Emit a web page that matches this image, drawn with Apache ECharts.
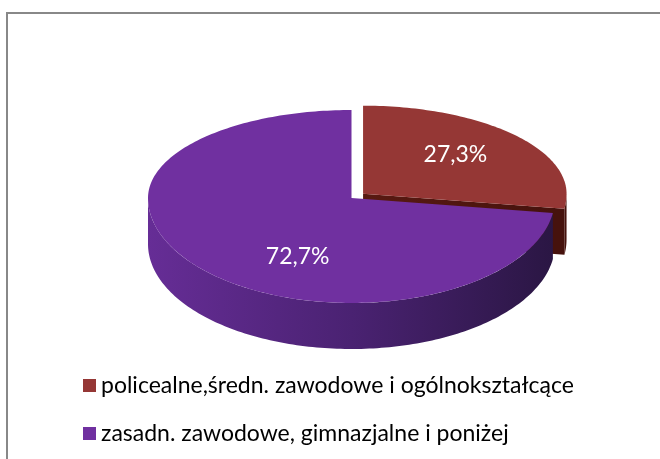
<!DOCTYPE html>
<html>
<head>
  <meta charset="utf-8">
  <title>wykształcenie</title>
  <script src="https://cdn.jsdelivr.net/npm/echarts@6/dist/echarts.min.js"></script>
  <style>
    html, body { margin: 0; padding: 0; background: #fff; }
  </style>
</head>
<body>
  <div id="main" style="width:660px;height:459px;"></div>
  <script type="text/javascript">
    // dane
    var names = ['policealne,średn. zawodowe i ogólnokształcące', 'zasadn. zawodowe, gimnazjalne i poniżej'];
    var values = [27.3, 72.7];
    var colors = ['#953735', '#7030A0'];
    var sideColors = [['#5e1e17', '#5a1a12', '#46120d'], ['#662d96', '#4a2272', '#2a1643']];

    // geometria "3D" tortu (przód elipsy większy - perspektywa)
    var CX = 351.5, CY = 198, RX = 203.5, RY_BACK = 88, RY_FRONT = 105, DEPTH = 46;
    var explode = [0.075, 0];
    var labelK = [0.6, 0.35];
    var labelDrop = [-5, 35];

    var total = values.reduce(function (a, b) { return a + b; }, 0);

    function startAngle(i) {
      var s = 0;
      for (var k = 0; k < i; k++) s += values[k];
      return s / total * Math.PI * 2;
    }

    function ry(t) {
      return Math.cos(t) > 0 ? RY_BACK : RY_FRONT;
    }

    function pt(t, ox, oy, dz) {
      return [CX + ox + RX * Math.sin(t), CY + oy - ry(t) * Math.cos(t) + dz];
    }

    function arc(a, b, ox, oy, dz) {
      var n = Math.max(2, Math.ceil(Math.abs(b - a) / 0.02));
      var pts = [];
      for (var j = 0; j <= n; j++) pts.push(pt(a + (b - a) * j / n, ox, oy, dz));
      return pts;
    }

    function renderSlice(i) {
      return function (params, api) {
        var v = api.value(0);
        var a0 = startAngle(i);
        var a1 = a0 + v / total * Math.PI * 2;
        var mid = (a0 + a1) / 2;
        var ox = explode[i] * RX * Math.sin(mid);
        var oy = -explode[i] * ry(mid) * Math.cos(mid);
        var c = [CX + ox, CY + oy];
        var cb = [c[0], c[1] + DEPTH];
        var side = new echarts.graphic.LinearGradient(CX - RX, 0, CX + RX, 0, [
          { offset: 0, color: sideColors[i][0] },
          { offset: 0.5, color: sideColors[i][1] },
          { offset: 1, color: sideColors[i][2] }
        ], true);
        var children = [];

        // ściany boczne (przekroje)
        if (Math.sin(a1) > 1e-6) {
          var e1 = pt(a1, ox, oy, 0);
          children.push({ type: 'polygon', shape: { points: [c, e1, [e1[0], e1[1] + DEPTH], cb] }, style: { fill: side } });
        }
        if (Math.sin(a0) < -1e-6) {
          var e0 = pt(a0, ox, oy, 0);
          children.push({ type: 'polygon', shape: { points: [c, e0, [e0[0], e0[1] + DEPTH], cb] }, style: { fill: side } });
        }
        // ściana zewnętrzna
        var lo = Math.max(a0, Math.PI / 2), hi = Math.min(a1, Math.PI * 1.5);
        if (lo < hi) {
          var wall = arc(lo, hi, ox, oy, 0).concat(arc(hi, lo, ox, oy, DEPTH));
          children.push({ type: 'polygon', shape: { points: wall }, style: { fill: side } });
        }
        // wierzch
        children.push({ type: 'polygon', shape: { points: [c].concat(arc(a0, a1, ox, oy, 0)) }, style: { fill: colors[i] } });

        // etykieta
        var k = labelK[i];
        children.push({
          type: 'text',
          x: c[0] + k * RX * Math.sin(mid),
          y: c[1] - k * ry(mid) * Math.cos(mid) + labelDrop[i],
          style: {
            text: v.toFixed(1).replace('.', ',') + '%',
            fill: '#fff',
            fontSize: 23,
            fontFamily: 'Lato',
            align: 'center',
            verticalAlign: 'middle'
          }
        });
        return { type: 'group', children: children };
      };
    }

    var series = names.map(function (n, i) {
      return {
        name: n,
        type: 'custom',
        coordinateSystem: 'none',
        itemStyle: { color: colors[i] },
        data: [[values[i]]],
        renderItem: renderSlice(i)
      };
    });

    var myChart = echarts.init(document.getElementById('main'));
    myChart.setOption({
      animation: false,
      color: colors,
      legend: {
        orient: 'vertical',
        left: 78,
        top: 369,
        itemWidth: 13,
        itemHeight: 13,
        itemGap: 25,
        icon: 'rect',
        selectedMode: false,
        textStyle: { fontSize: 23, color: '#000', fontFamily: 'Lato' },
        data: names
      },
      graphic: [{
        type: 'rect',
        shape: { x: 7, y: 13, width: 700, height: 500 },
        style: { fill: 'none', stroke: '#888', lineWidth: 2 }
      }],
      series: series
    });
  </script>
</body>
</html>
